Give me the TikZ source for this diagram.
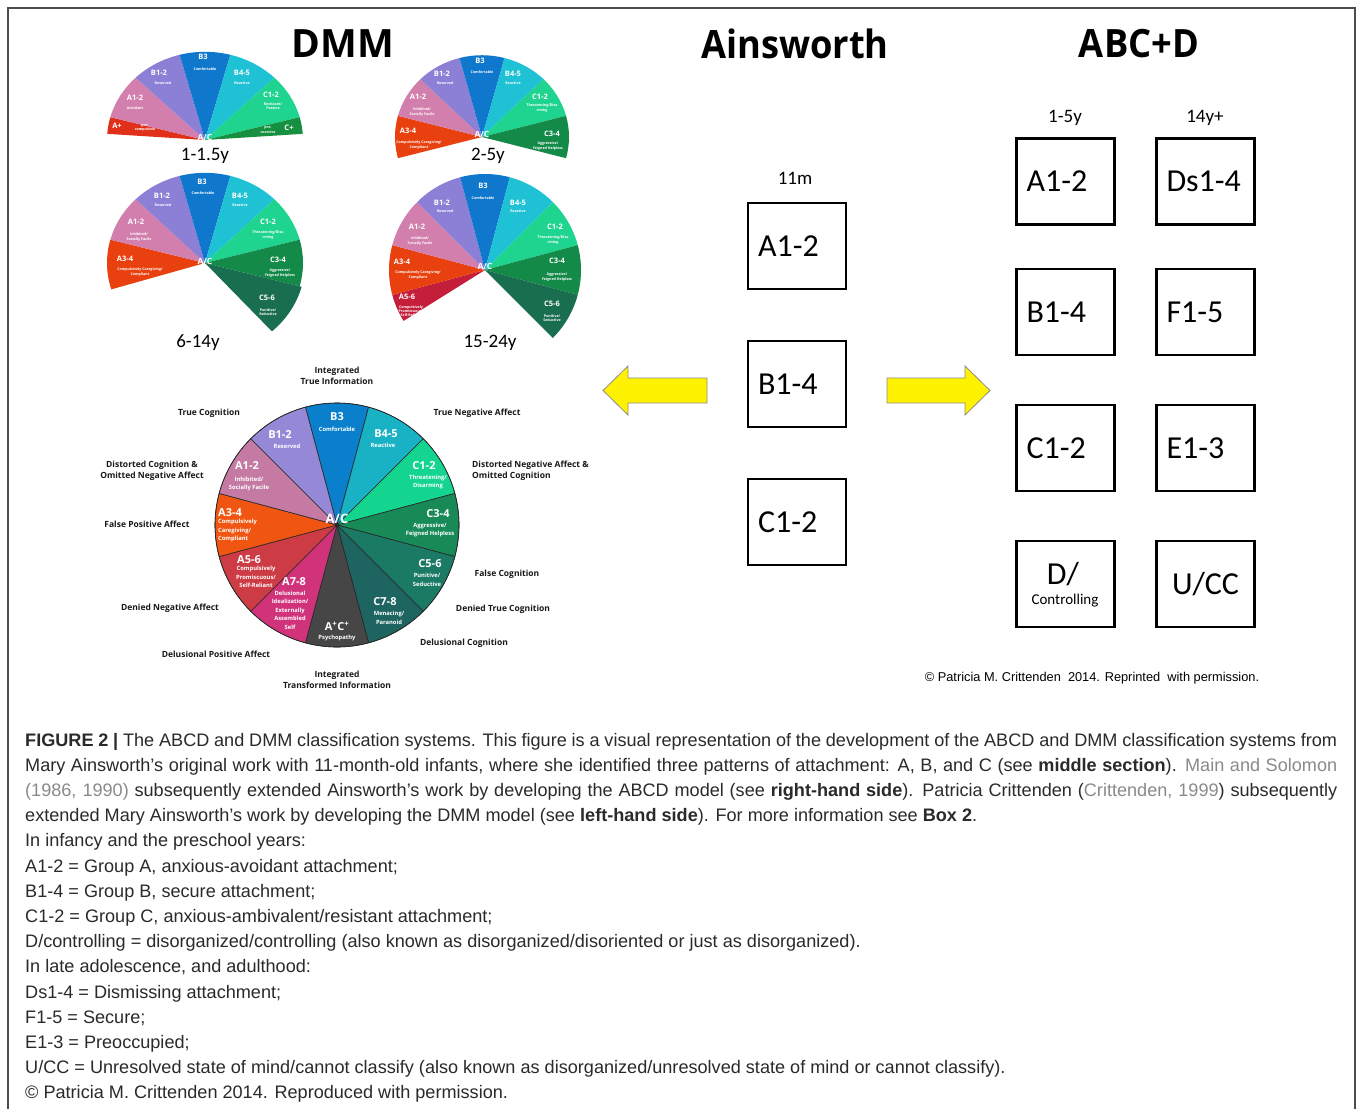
\documentclass[tikz,border=0pt]{standalone}
\usepackage{fontspec}
\setmainfont{Liberation Sans}
\newfontfamily\os{Open Sans}
\newfontfamily\carl{Carlito}
\newcommand\fsz[2]{\fontsize{#1}{#2}\selectfont}
% fan colours
\definecolor{fAp}{HTML}{E0301A}
\definecolor{fA34}{HTML}{E8400F}
\definecolor{fA56}{HTML}{C41E3A}
\definecolor{fA12}{HTML}{D27FAE}
\definecolor{fB12}{HTML}{8B7FD6}
\definecolor{fB3}{HTML}{0F78CC}
\definecolor{fB45}{HTML}{1FC1D4}
\definecolor{fC12}{HTML}{1FD48E}
\definecolor{fC34}{HTML}{138A48}
\definecolor{fCp}{HTML}{169040}
\definecolor{fC56}{HTML}{1A6E50}
% big wheel colours
\definecolor{wB3}{HTML}{0A80CC}
\definecolor{wB45}{HTML}{19B1C4}
\definecolor{wC12}{HTML}{14D58F}
\definecolor{wC34}{HTML}{188A58}
\definecolor{wC56}{HTML}{1B7A64}
\definecolor{wC78}{HTML}{1E6461}
\definecolor{wAC}{HTML}{464646}
\definecolor{wA78}{HTML}{D1337B}
\definecolor{wA56}{HTML}{CD3C44}
\definecolor{wA34}{HTML}{F05512}
\definecolor{wA12}{HTML}{C47AA3}
\definecolor{wB12}{HTML}{9588D6}
\definecolor{captxt}{HTML}{2A2A2A}
\definecolor{capref}{HTML}{8A8A8A}
\newcommand\fansec[4]{\fill[#4] (0,0) -- (#1:#3) arc[start angle=#1,end angle=#2,radius=#3] -- cycle;}
\newcommand\whlsec[3]{\filldraw[fill=#3,draw=black!85,line width=0.6pt] (0,0) -- (#1:122) arc[start angle=#1,end angle=#2,radius=122] -- cycle;}
\newcommand\fanlab[5]{\node[fn] (#1n) at (#2) {#3}; \node[fd] (#1d) at (#4) {#5};}
\newcommand\capl[2]{\node[captext] (capline#1) at (25,{-746-25.2*(#1-1)}) {#2};}
\tikzset{
  ttl/.style={font=\os\bfseries\fsz{39}{40}, inner sep=0pt},
  agel/.style={font=\carl\fsz{19}{20}, inner sep=0pt},
  bx/.style={draw, line width=2.2pt, minimum width=98pt, minimum height=86pt, text width=78pt, inner xsep=10pt, align=left, font=\carl\fsz{32}{34}},
  fn/.style={text=white, font=\os\bfseries\fsz{7.5}{8}, inner sep=0pt},
  fd/.style={text=white, font=\os\bfseries\fsz{3.6}{4.3}, inner sep=0pt, align=center},
  wn/.style={text=white, font=\os\bfseries\fsz{11}{12}, inner sep=0pt},
  wd/.style={text=white, font=\os\bfseries\fsz{5.8}{8.5}, inner sep=0pt, align=center},
  ol/.style={text=black!90, font=\os\bfseries\fsz{8.5}{11.5}, inner sep=0pt, align=center},
  captext/.style={anchor=base west, inner sep=0pt, text=captxt, font=\fsz{18.1}{20}},
  yarrow/.style={fill=yellow, draw=black!45, line width=0.8pt},
}
\begin{document}
\begin{tikzpicture}[x=1pt,y=1pt]
\fill[white] (0,0) rectangle (1357,-1109);
\useasboundingbox (0,0) rectangle (1357,-1109);
\draw[line width=1.3pt, black!70] (8,-1109) -- (8,-8) -- (1355,-8) -- (1355,-1109);

% titles
\node[ttl] (tDMM) at (343,-44) {DMM};
\node[ttl] (tAins) at (795,-44) {\scalebox{0.93}[1]{Ainsworth}};
\node[ttl] (tABCD) at (1139,-44) {\scalebox{0.93}[1]{ABC+D}};

% ---------- fan 1 : 1-1.5y ----------
\begin{scope}[shift={(205,-140)}, yscale=0.9]
\fansec{165}{176}{98}{fAp}
\fansec{135}{165}{98}{fA12}
\fansec{105}{135}{98}{fB12}
\fansec{75}{105}{98}{fB3}
\fansec{45}{75}{98}{fB45}
\fansec{15}{45}{98}{fC12}
\fansec{4}{15}{98}{fCp}
\end{scope}
\fanlab{fa}{117,-126}{A+}{145,-128}{pre-\\compulsive}
\fanlab{fb}{135,-98}{A1-2}{135,-108}{Avoidant}
\fanlab{fc}{159,-73}{B1-2}{163,-83}{Reserved}
\fanlab{fd}{203,-57}{B3}{205,-69}{Comfortable}
\fanlab{fe}{242,-73}{B4-5}{242,-83}{Reactive}
\fanlab{ff}{271,-95}{C1-2}{273,-106}{Resistant/\\Passive}
\fanlab{fg}{289,-128}{C+}{268,-130}{pre-\\coercive}
\node[fn, font=\os\bfseries\fsz{8.5}{9}] (fAC1) at (205,-137) {A/C};
\node[agel] (age1) at (205,-156) {1-1.5y};

% ---------- fan 2 : 2-5y ----------
\begin{scope}[shift={(482,-137)}, yscale=0.94]
\fansec{165}{195}{87}{fA34}
\fansec{135}{165}{87}{fA12}
\fansec{105}{135}{87}{fB12}
\fansec{75}{105}{87}{fB3}
\fansec{45}{75}{87}{fB45}
\fansec{15}{45}{87}{fC12}
\fansec{-15}{15}{87}{fC34}
\end{scope}
\fanlab{ga}{408,-131}{A3-4}{419,-145}{Compulsively Caregiving/\\Compliant}
\fanlab{gb}{418,-97}{A1-2}{422,-112}{Inhibited/\\Socially Facile}
\fanlab{gc}{442,-74}{B1-2}{445,-83}{Reserved}
\fanlab{gd}{480,-61}{B3}{482,-72}{Comfortable}
\fanlab{ge}{513,-74}{B4-5}{513,-83}{Reactive}
\fanlab{gf}{540,-97}{C1-2}{542,-108}{Threatening/Disa\\rming}
\fanlab{gg}{552,-134}{C3-4}{548,-146}{Aggressive/\\Feigned Helpless}
\node[fn, font=\os\bfseries\fsz{8.5}{9}] (fAC2) at (482,-134) {A/C};
\node[agel] (age2) at (488,-156) {2-5y};

% ---------- fan 3 : 6-14y ----------
\begin{scope}[shift={(205,-263)}, yscale=0.92]
\fansec{165}{197}{98}{fA34}
\fansec{135}{165}{98}{fA12}
\fansec{105}{135}{98}{fB12}
\fansec{75}{105}{98}{fB3}
\fansec{45}{75}{98}{fB45}
\fansec{15}{45}{98}{fC12}
\fansec{-15}{15}{98}{fC34}
\fansec{-48}{-15}{100}{fC56}
\end{scope}
\fanlab{ha}{125,-259}{A3-4}{140,-272}{Compulsively Caregiving/\\Compliant}
\fanlab{hb}{136,-222}{A1-2}{139,-237}{Inhibited/\\Socially Facile}
\fanlab{hc}{162,-196}{B1-2}{163,-205}{Reserved}
\fanlab{hd}{202,-182}{B3}{203,-193}{Comfortable}
\fanlab{he}{240,-196}{B4-5}{240,-205}{Reactive}
\fanlab{hf}{268,-222}{C1-2}{268,-235}{Threatening/Disa\\rming}
\fanlab{hg}{278,-260}{C3-4}{280,-273}{Aggressive/\\Feigned Helpless}
\fanlab{hh}{267,-298}{C5-6}{268,-312}{Punitive/\\Seductive}
\node[fn, font=\os\bfseries\fsz{8.5}{9}] (fAC3) at (205,-261) {A/C};
\node[agel] (age3) at (198,-343) {6-14y};

% ---------- fan 4 : 15-24y ----------
\begin{scope}[shift={(485,-270)}]
\fansec{195}{212}{96}{fA56}
\fansec{165}{195}{96}{fA34}
\fansec{135}{165}{96}{fA12}
\fansec{105}{135}{96}{fB12}
\fansec{75}{105}{96}{fB3}
\fansec{45}{75}{96}{fB45}
\fansec{15}{45}{96}{fC12}
\fansec{-15}{15}{96}{fC34}
\fansec{-45}{-15}{96}{fC56}
\end{scope}
\fanlab{ia}{407,-297}{A5-6}{411,-311}{Compulsively\\Promiscuous/\\Self-Reliant}
\fanlab{ib}{402,-262}{A3-4}{418,-275}{Compulsively Caregiving/\\Compliant}
\fanlab{ic}{417,-227}{A1-2}{420,-241}{Inhibited/\\Socially Facile}
\fanlab{id}{442,-203}{B1-2}{445,-211}{Reserved}
\fanlab{ie}{483,-186}{B3}{483,-198}{Comfortable}
\fanlab{if}{518,-203}{B4-5}{518,-211}{Reactive}
\fanlab{ig}{555,-227}{C1-2}{553,-240}{Threatening/Disa\\rming}
\fanlab{ih}{557,-261}{C3-4}{557,-277}{Aggressive/\\Feigned Helpless}
\fanlab{ii}{552,-304}{C5-6}{552,-318}{Punitive/\\Seductive}
\node[fn, font=\os\bfseries\fsz{8.5}{9}] (fAC4) at (485,-266) {A/C};
\node[agel] (age4) at (490,-343) {15-24y};

% ---------- big wheel ----------
\begin{scope}[shift={(337,-525)}]
\whlsec{75}{105}{wB3}
\whlsec{45}{75}{wB45}
\whlsec{15}{45}{wC12}
\whlsec{-15}{15}{wC34}
\whlsec{-45}{-15}{wC56}
\whlsec{-75}{-45}{wC78}
\whlsec{-105}{-75}{wAC}
\whlsec{-135}{-105}{wA78}
\whlsec{-165}{-135}{wA56}
\whlsec{165}{195}{wA34}
\whlsec{135}{165}{wA12}
\whlsec{105}{135}{wB12}
\draw[black!85, line width=0.6pt] (0,0) circle[radius=122];
\end{scope}
\node[wn] (wB3n) at (337,-417) {B3};
\node[wd] (wB3d) at (337,-429) {Comfortable};
\node[wn] (wB45n) at (386,-434) {B4-5};
\node[wd] (wB45d) at (383,-445) {Reactive};
\node[wn] (wC12n) at (424,-466) {C1-2};
\node[wd] (wC12d) at (428,-482) {Threatening/\\Disarming};
\node[wn] (wC34n) at (438,-514) {C3-4};
\node[wd] (wC34d) at (430,-530) {Aggressive/\\Feigned Helpless};
\node[wn] (wC56n) at (430,-564) {C5-6};
\node[wd] (wC56d) at (427,-580) {Punitive/\\Seductive};
\node[wn] (wC78n) at (385,-602) {C7-8};
\node[wd] (wC78d) at (389,-618) {Menacing/\\Paranoid};
\node[wn] (wACn) at (337,-626) {A\textsuperscript{+}C\textsuperscript{+}};
\node[wd] (wACd) at (337,-638) {Psychopathy};
\node[wn] (wA78n) at (294,-582) {A7-8};
\node[wd] (wA78d) at (290,-610) {Delusional\\Idealization/\\Externally\\Assembled\\Self};
\node[wn] (wA56n) at (249,-560) {A5-6};
\node[wd] (wA56d) at (256,-577) {Compulsively\\Promiscuous/\\Self-Reliant};
\node[wn, anchor=west] (wA34n) at (218,-513) {A3-4};
\node[wd, anchor=north west, align=left] (wA34d) at (218,-519) {Compulsively\\Caregiving/\\Compliant};
\node[wn] (wA12n) at (247,-466) {A1-2};
\node[wd] (wA12d) at (249,-484) {Inhibited/\\Socially Facile};
\node[wn] (wB12n) at (280,-435) {B1-2};
\node[wd] (wB12d) at (287,-446) {Reserved};
\node[wn, font=\os\bfseries\fsz{13}{14}] (wACc) at (337,-519) {A/C};

% outer labels
\node[ol] (oITI) at (337,-376) {Integrated\\True Information};
\node[ol] (oTC) at (209,-413) {True Cognition};
\node[ol] (oTNA) at (477,-413) {True Negative Affect};
\node[ol] (oDC) at (152,-471) {Distorted Cognition \&\\Omitted Negative Affect};
\node[ol, anchor=west, align=left] (oDNA) at (472,-471) {Distorted Negative Affect \&\\Omitted Cognition};
\node[ol] (oFPA) at (147,-524) {False Positive Affect};
\node[ol] (oFC) at (507,-574) {False Cognition};
\node[ol] (oDNeg) at (170,-608) {Denied Negative Affect};
\node[ol] (oDTC) at (503,-609) {Denied True Cognition};
\node[ol] (oDelC) at (464,-643) {Delusional Cognition};
\node[ol] (oDPA) at (216,-654) {Delusional Positive Affect};
\node[ol] (oITrI) at (337,-680) {Integrated\\Transformed Information};

% ---------- Ainsworth ----------
\node[agel] (a11m) at (795,-178) {11m};
\node[bx] (ainA) at (797,-246) {A1-2};
\node[bx] (ainB) at (797,-384) {B1-4};
\node[bx] (ainC) at (797,-522) {C1-2};

% arrows
\filldraw[yarrow] (707,-378) -- (628,-378) -- (628,-366) -- (603,-390.5) -- (628,-415) -- (628,-403) -- (707,-403) -- cycle;
\filldraw[yarrow] (887,-378) -- (965,-378) -- (965,-366) -- (990,-390.5) -- (965,-415) -- (965,-403) -- (887,-403) -- cycle;

% ---------- ABC+D ----------
\node[agel] (ab15) at (1065,-118) {1-5y};
\node[agel] (ab14) at (1205,-118) {14y+};
\node[bx] (abA) at (1065.5,-181.5) {A1-2};
\node[bx] (abDs) at (1205.5,-181.5) {Ds1-4};
\node[bx] (abB) at (1065.5,-312) {B1-4};
\node[bx] (abF) at (1205.5,-312) {F1-5};
\node[bx] (abC) at (1065.5,-448) {C1-2};
\node[bx] (abE) at (1205.5,-448) {E1-3};
\node[bx] (abD) at (1065.5,-584) {};
\node[inner sep=0pt, font=\carl\fsz{32}{34}] (abDt) at (1063,-574) {D/};
\node[inner sep=0pt, font=\carl\fsz{15}{16}] (abDc) at (1065,-601) {Controlling};
\node[bx, align=center] (abU) at (1205.5,-584) {U/CC};

\node[inner sep=0pt, font=\fsz{12.8}{14}] (copy) at (1092,-678) {\textcopyright\ Patricia M. Crittenden\ \ 2014. Reprinted\ \ with permission.};

% ---------- caption ----------
\capl{1}{\makebox[1312pt][s]{\textbf{FIGURE 2 |} The ABCD and DMM classification systems. This figure is a visual representation of the development of the ABCD and DMM classification systems from}}
\capl{2}{\makebox[1312pt][s]{Mary Ainsworth’s original work with 11-month-old infants, where she identified three patterns of attachment: A, B, and C (see \textbf{middle section}). \textcolor{capref}{Main and Solomon}}}
\capl{3}{\makebox[1312pt][s]{\textcolor{capref}{(1986, 1990)} subsequently extended Ainsworth’s work by developing the ABCD model (see \textbf{right-hand side}). Patricia Crittenden (\textcolor{capref}{Crittenden, 1999}) subsequently}}
\capl{4}{extended Mary Ainsworth’s work by developing the DMM model (see \textbf{left-hand side}). For more information see \textbf{Box 2}.}
\capl{5}{In infancy and the preschool years:}
\capl{6}{A1-2 = Group A, anxious-avoidant attachment;}
\capl{7}{B1-4 = Group B, secure attachment;}
\capl{8}{C1-2 = Group C, anxious-ambivalent/resistant attachment;}
\capl{9}{D/controlling = disorganized/controlling (also known as disorganized/disoriented or just as disorganized).}
\capl{10}{In late adolescence, and adulthood:}
\capl{11}{Ds1-4 = Dismissing attachment;}
\capl{12}{F1-5 = Secure;}
\capl{13}{E1-3 = Preoccupied;}
\capl{14}{U/CC = Unresolved state of mind/cannot classify (also known as disorganized/unresolved state of mind or cannot classify).}
\capl{15}{\textcopyright\ Patricia M. Crittenden 2014. Reproduced with permission.}
\end{tikzpicture}
\end{document}
